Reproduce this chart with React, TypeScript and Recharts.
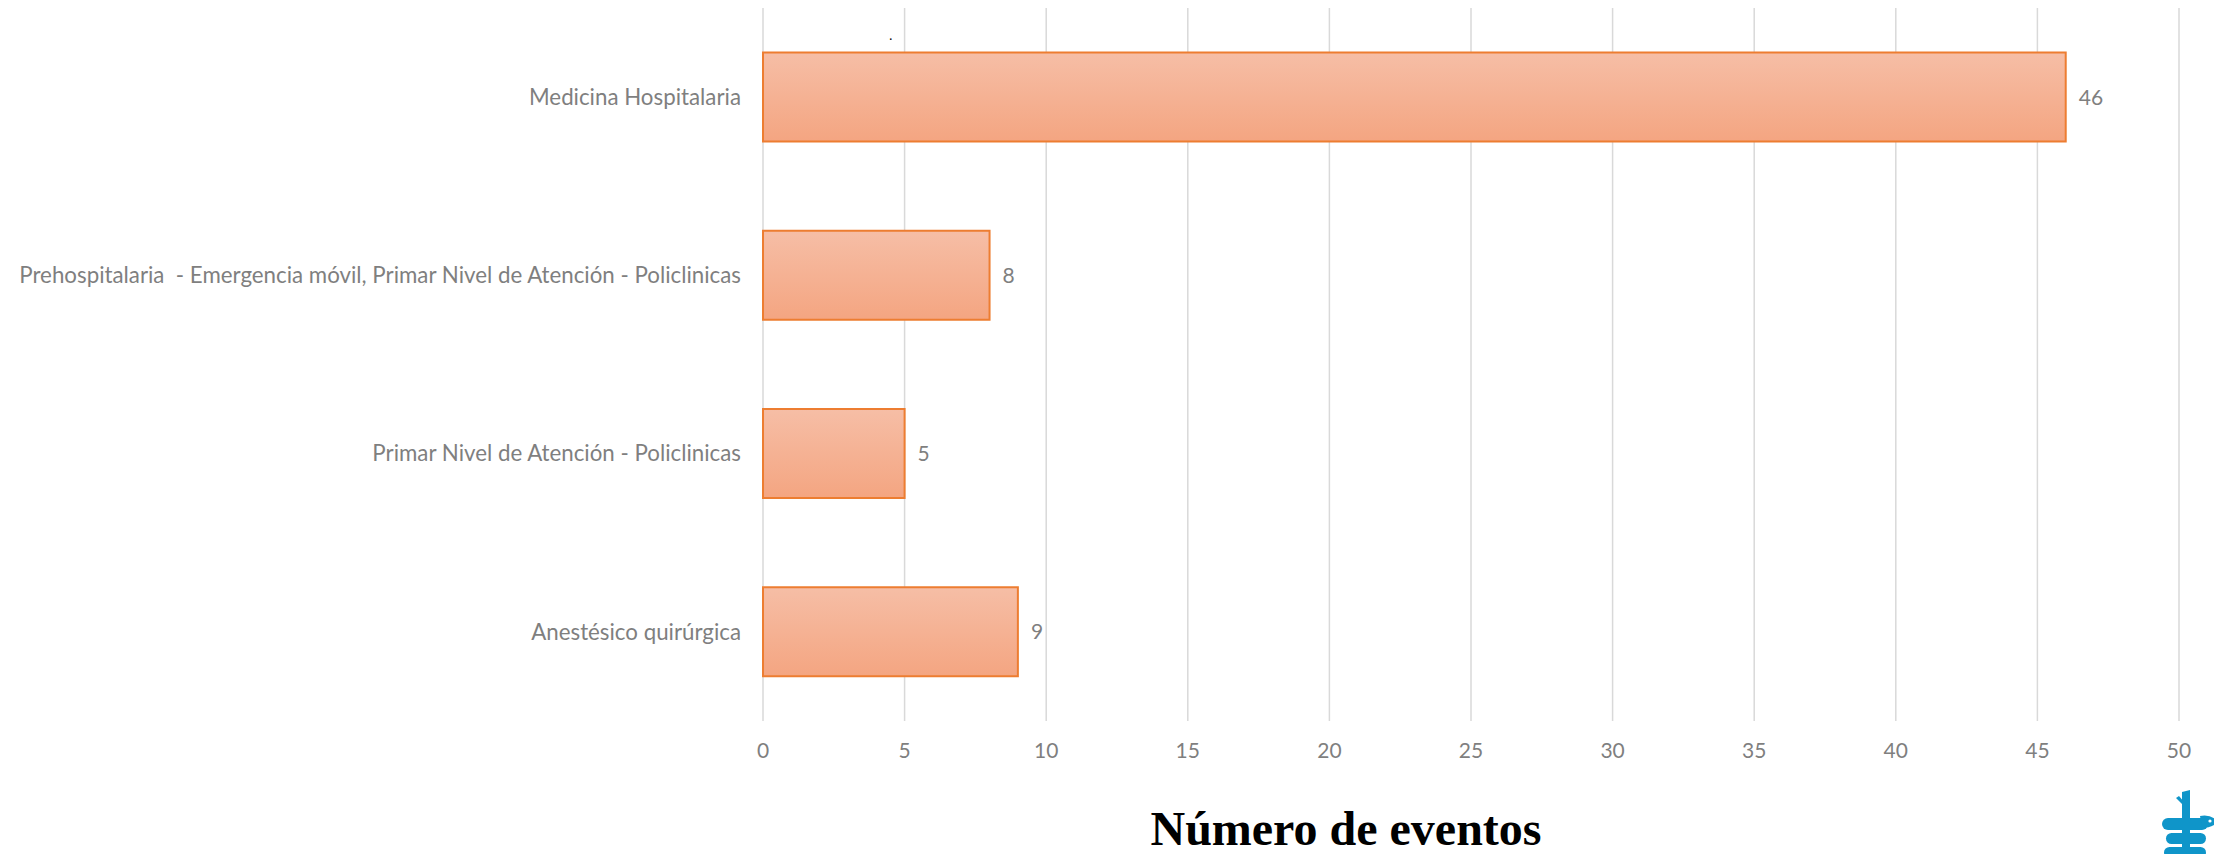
import {
  Bar,
  BarChart,
  CartesianGrid,
  LabelList,
  XAxis,
  YAxis,
} from 'recharts';

const categories = [
  'Medicina Hospitalaria',
  'Prehospitalaria  - Emergencia móvil, Primar Nivel de Atención - Policlinicas',
  'Primar Nivel de Atención - Policlinicas',
  'Anestésico quirúrgica',
];
const eventCounts = [46, 8, 5, 9];
const xTicks = [0, 5, 10, 15, 20, 25, 30, 35, 40, 45, 50];
const axisTitle = 'Número de eventos';

const data = categories.map((name, i) => ({ name, value: eventCounts[i] }));

const GREY = '#7f7f7f';
const FONT = 'Lato, "Open Sans", sans-serif';

// plain text tick so the double space in the label is kept
const CategoryTick = (props: any) => {
  const { x, y, payload } = props;
  return (
    <text
      x={x}
      y={y}
      dy="0.35em"
      textAnchor="end"
      fill={GREY}
      fontSize={22.3}
      fontFamily={FONT}
      style={{ whiteSpace: 'pre' }}
    >
      {payload.value}
    </text>
  );
};

// little blue logo in the bottom right corner (snake on a staff)
const Logo = () => (
  <svg
    width={60}
    height={66}
    viewBox="0 0 60 66"
    style={{ position: 'absolute', left: 2160, top: 790 }}
  >
    <path d="M22 2 L30 0 L30 66 L22 66 Z" fill="#0f95c9" />
    <path d="M22 14 L16 8 L19 6 L24 12 Z" fill="#0f95c9" />
    <rect x={2} y={28} width={46} height={12} rx={6} fill="#0f95c9" />
    <path d="M40 26 Q52 24 58 32 Q52 38 42 38 Z" fill="#0f95c9" />
    <circle cx={50} cy={31} r={1.6} fill="#fff" />
    <rect x={6} y={43} width={40} height={11} rx={5.5} fill="#0f95c9" />
    <rect x={4} y={57} width={42} height={11} rx={5.5} fill="#0f95c9" />
  </svg>
);

export default function App() {
  return (
    <div
      style={{
        position: 'absolute',
        left: 0,
        top: 0,
        width: 2214,
        height: 854,
        background: '#fff',
        overflow: 'hidden',
      }}
    >
      <BarChart
        width={2214}
        height={854}
        data={data}
        layout="vertical"
        margin={{ top: 8, right: 35, bottom: 0, left: 0 }}
        barCategoryGap="25%"
      >
        <defs>
          <linearGradient id="barFill" x1="0" y1="0" x2="0" y2="1">
            <stop offset="0%" stopColor="#f6bea6" />
            <stop offset="100%" stopColor="#f4a581" />
          </linearGradient>
        </defs>
        <CartesianGrid
          horizontal={false}
          stroke="#d9d9d9"
          strokeWidth={1.5}
        />
        <XAxis
          type="number"
          domain={[0, 50]}
          ticks={xTicks}
          axisLine={false}
          tickLine={false}
          tickSize={0}
          tickMargin={22}
          height={133}
          interval={0}
          tick={{ fill: GREY, fontSize: 21, fontFamily: FONT }}
        />
        <YAxis
          type="category"
          dataKey="name"
          width={763}
          axisLine={false}
          tickLine={false}
          tickSize={0}
          tickMargin={22}
          interval={0}
          tick={<CategoryTick />}
        />
        <Bar
          dataKey="value"
          fill="url(#barFill)"
          stroke="#ed7d31"
          strokeWidth={2}
          isAnimationActive={false}
        >
          <LabelList
            dataKey="value"
            position="right"
            offset={13}
            fill={GREY}
            fontSize={21}
            fontFamily={FONT}
          />
        </Bar>
      </BarChart>
      <div
        style={{
          position: 'absolute',
          left: 889,
          top: 28,
          fontSize: 14,
          color: '#000',
          fontFamily: 'Liberation Serif, serif',
        }}
      >
        .
      </div>
      <div
        style={{
          position: 'absolute',
          left: 1346,
          top: 829,
          transform: 'translate(-50%, -50%)',
          fontFamily: '"Liberation Serif", "Times New Roman", serif',
          fontWeight: 'bold',
          fontSize: 48,
          lineHeight: 1,
          color: '#000',
          whiteSpace: 'nowrap',
        }}
      >
        {axisTitle}
      </div>
      <Logo />
    </div>
  );
}
